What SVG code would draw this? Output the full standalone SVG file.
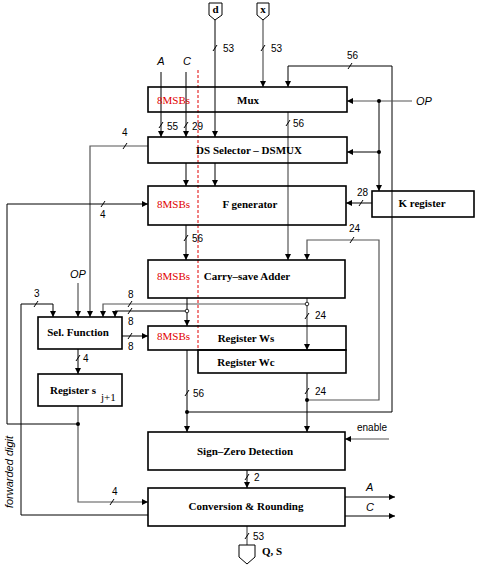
<svg xmlns="http://www.w3.org/2000/svg" width="477" height="566" viewBox="0 0 477 566">
<style>
.box{fill:none;stroke:#000;stroke-width:1.6}
.ln{fill:none;stroke:#000;stroke-width:1}
.gl{fill:none;stroke:#555;stroke-width:1.2}
.tk{stroke:#000;stroke-width:1}
.bl{font-family:"Liberation Serif",serif;font-weight:bold;font-size:11px;fill:#000}
.sub{font-family:"Liberation Serif",serif;font-weight:normal;font-size:11px;fill:#000}
.red{font-family:"Liberation Serif",serif;font-size:11px;fill:#e00000}
.num{font-family:"Liberation Sans",sans-serif;font-size:10px;fill:#000}
.it{font-family:"Liberation Sans",sans-serif;font-style:italic;font-size:11px;fill:#000}
.dot{fill:#000}
.odot{fill:#fff;stroke:#000;stroke-width:0.8}
</style>
<defs>
<marker id="ah" viewBox="0 0 10 10" refX="10" refY="5" markerWidth="7" markerHeight="6" orient="auto" markerUnits="userSpaceOnUse">
<path d="M0,0 L10,5 L0,10 z" fill="#000"/>
</marker>
</defs>
<rect width="477" height="566" fill="#fff"/>

<!-- red dashed -->
<line x1="198" y1="70" x2="198" y2="350" stroke="#e00000" stroke-width="1" stroke-dasharray="3,2"/>

<g id="connectors">
<path class="ln" d="M215,20 V137" marker-end="url(#ah)"/>
<path class="gl" d="M263,20 V87" marker-end="url(#ah)"/>
<path class="ln" d="M161,72 V137" marker-end="url(#ah)"/>
<path class="ln" d="M186,72 V137" marker-end="url(#ah)"/>
<path class="ln" d="M187,412 H392 V66 H288 V87" marker-end="url(#ah)"/>
<path class="gl" d="M288,112 V260" marker-end="url(#ah)"/>
<path class="gl" d="M412,101 H347" marker-end="url(#ah)"/>
<path class="ln" d="M379,101 V191" marker-end="url(#ah)"/>
<path class="ln" d="M379,152 H347" marker-end="url(#ah)"/>
<path class="ln" d="M186,163 V186" marker-end="url(#ah)"/>
<path class="ln" d="M215,163 V186" marker-end="url(#ah)"/>
<path class="gl" d="M148,146 H90 V317" marker-end="url(#ah)"/>
<path class="ln" d="M372,203 H346" marker-end="url(#ah)"/>
<path class="ln" d="M186,225 V260" marker-end="url(#ah)"/>
<path class="gl" d="M307,400 H379 V240 H307 V260" marker-end="url(#ah)"/>
<path class="gl" d="M307,298 V350" marker-end="url(#ah)"/>
<path class="gl" d="M307,304 H103 V317" marker-end="url(#ah)"/>
<path class="ln" d="M187,298 V326" marker-end="url(#ah)"/>
<path class="ln" d="M187,311 H115 V317" marker-end="url(#ah)"/>
<path class="ln" d="M122,336 H148" marker-end="url(#ah)"/>
<path class="ln" d="M148,515 H21 V304 H53 V317" marker-end="url(#ah)"/>
<path class="gl" d="M78,283 V317" marker-end="url(#ah)"/>
<path class="ln" d="M78,349 V374" marker-end="url(#ah)"/>
<path class="gl" d="M78,406 V502 H148" marker-end="url(#ah)"/>
<path class="ln" d="M78,424 H7 V204 H148" marker-end="url(#ah)"/>
<path class="ln" d="M187,350 V432" marker-end="url(#ah)"/>
<path class="ln" d="M307,373 V432" marker-end="url(#ah)"/>
<path class="gl" d="M389,439 H345" marker-end="url(#ah)"/>
<path class="ln" d="M247,470 V488" marker-end="url(#ah)"/>
<path class="ln" d="M345,497 H395" marker-end="url(#ah)"/>
<path class="ln" d="M345,516 H395" marker-end="url(#ah)"/>
<path class="gl" d="M247,526 V545"/>
<circle class="dot" cx="379" cy="101" r="2"/>
<circle class="dot" cx="379" cy="152" r="2"/>
<circle class="dot" cx="187" cy="412" r="2"/>
<circle class="dot" cx="307" cy="400" r="2"/>
<circle class="dot" cx="78" cy="424" r="2"/>
<circle class="odot" cx="307" cy="304" r="1.8"/>
<circle class="odot" cx="187" cy="311" r="1.8"/>
<g class="tk">
<line x1="213" y1="51" x2="217" y2="45"/>
<line x1="261" y1="51" x2="265" y2="45"/>
<line x1="348" y1="69" x2="352" y2="63"/>
<line x1="159" y1="128" x2="163" y2="122"/>
<line x1="184" y1="128" x2="188" y2="122"/>
<line x1="286" y1="126" x2="290" y2="120"/>
<line x1="123" y1="149" x2="127" y2="143"/>
<line x1="101" y1="207" x2="105" y2="201"/>
<line x1="359" y1="206" x2="363" y2="200"/>
<line x1="184" y1="241" x2="188" y2="235"/>
<line x1="350" y1="243" x2="354" y2="237"/>
<line x1="34" y1="307" x2="38" y2="301"/>
<line x1="128" y1="307" x2="132" y2="301"/>
<line x1="128" y1="314" x2="132" y2="308"/>
<line x1="128" y1="339" x2="132" y2="333"/>
<line x1="305" y1="319" x2="309" y2="313"/>
<line x1="76" y1="361" x2="80" y2="355"/>
<line x1="185" y1="396" x2="189" y2="390"/>
<line x1="305" y1="394" x2="309" y2="388"/>
<line x1="245" y1="480" x2="249" y2="474"/>
<line x1="110" y1="505" x2="114" y2="499"/>
<line x1="245" y1="539" x2="249" y2="533"/>
</g>
</g>

<g id="in-d"><path d="M209,3 H222 V15 L215,20 L209,15 Z" fill="#fff" stroke="#000" stroke-width="1"/><text class="bl" x="215.5" y="13" text-anchor="middle" font-size="10">d</text></g>
<g id="in-x"><path d="M257,3 H269 V15 L263,20 L257,15 Z" fill="#fff" stroke="#000" stroke-width="1"/><text class="bl" x="263" y="13" text-anchor="middle" font-size="10">x</text></g>

<g id="mux"><rect class="box" x="148" y="87" width="199" height="25"/><text class="red" x="157" y="104">8MSBs</text><text class="bl" x="248" y="104" text-anchor="middle">Mux</text></g>
<g id="dsmux"><rect class="box" x="148" y="137" width="199" height="26"/><text class="bl" x="249" y="154" text-anchor="middle">DS Selector – DSMUX</text></g>
<g id="fgen"><rect class="box" x="148" y="186" width="198" height="39"/><text class="red" x="157" y="208">8MSBs</text><text class="bl" x="250" y="208" text-anchor="middle">F generator</text></g>
<g id="kreg"><rect class="box" x="372" y="191" width="102" height="26"/><text class="bl" x="422" y="207" text-anchor="middle">K register</text></g>
<g id="csa"><rect class="box" x="148" y="260" width="197" height="38"/><text class="red" x="157" y="280">8MSBs</text><text class="bl" x="247" y="280" text-anchor="middle">Carry–save Adder</text></g>
<g id="ws"><rect class="box" x="148" y="326" width="198" height="24"/><text class="red" x="157" y="340">8MSBs</text><text class="bl" x="246" y="342" text-anchor="middle">Register Ws</text></g>
<g id="wc"><rect class="box" x="198" y="350" width="148" height="23"/><text class="bl" x="246" y="366" text-anchor="middle">Register Wc</text></g>
<g id="sel"><rect class="box" x="38" y="317" width="84" height="32"/><text class="bl" x="78" y="336" text-anchor="middle">Sel. Function</text></g>
<g id="regs"><rect class="box" x="38" y="374" width="84" height="32"/><text class="bl" x="50" y="394">Register s</text><text class="sub" x="101" y="401">j+1</text></g>
<g id="szd"><rect class="box" x="148" y="432" width="197" height="38"/><text class="bl" x="245" y="455" text-anchor="middle">Sign–Zero Detection</text></g>
<g id="cr"><rect class="box" x="148" y="488" width="197" height="38"/><text class="bl" x="246" y="510" text-anchor="middle">Conversion &amp; Rounding</text></g>
<g id="out-qs"><path d="M239,545 H255 V557 L247,564 L239,557 Z" fill="#fff" stroke="#000" stroke-width="1"/><text class="bl" x="262" y="555">Q, S</text></g>

<g id="labels">
<text class="num" x="223" y="52">53</text>
<text class="num" x="271" y="52">53</text>
<text class="num" x="347" y="59">56</text>
<text class="num" x="167" y="130">55</text>
<text class="num" x="192" y="130">29</text>
<text class="num" x="293" y="127">56</text>
<text class="num" x="122" y="136">4</text>
<text class="num" x="100" y="218">4</text>
<text class="num" x="192" y="242">56</text>
<text class="num" x="357" y="196">28</text>
<text class="num" x="349" y="232">24</text>
<text class="num" x="34" y="297">3</text>
<text class="num" x="128" y="298">8</text>
<text class="num" x="128" y="325">8</text>
<text class="num" x="128" y="350">8</text>
<text class="num" x="315" y="319">24</text>
<text class="num" x="83" y="362">4</text>
<text class="num" x="193" y="397">56</text>
<text class="num" x="315" y="395">24</text>
<text class="num" x="254" y="481">2</text>
<text class="num" x="112" y="495">4</text>
<text class="num" x="253" y="540">53</text>
<text class="num" x="357" y="431">enable</text>
<text class="it" x="161" y="65" text-anchor="middle">A</text>
<text class="it" x="187" y="65" text-anchor="middle">C</text>
<text class="it" x="416" y="105">OP</text>
<text class="it" x="78" y="278" text-anchor="middle">OP</text>
<text class="it" x="366" y="491">A</text>
<text class="it" x="366" y="511">C</text>
<text class="it" x="0" y="0" font-size="10.5" transform="translate(13,472) rotate(-90)" text-anchor="middle">forwarded digit</text>
</g>
</svg>
